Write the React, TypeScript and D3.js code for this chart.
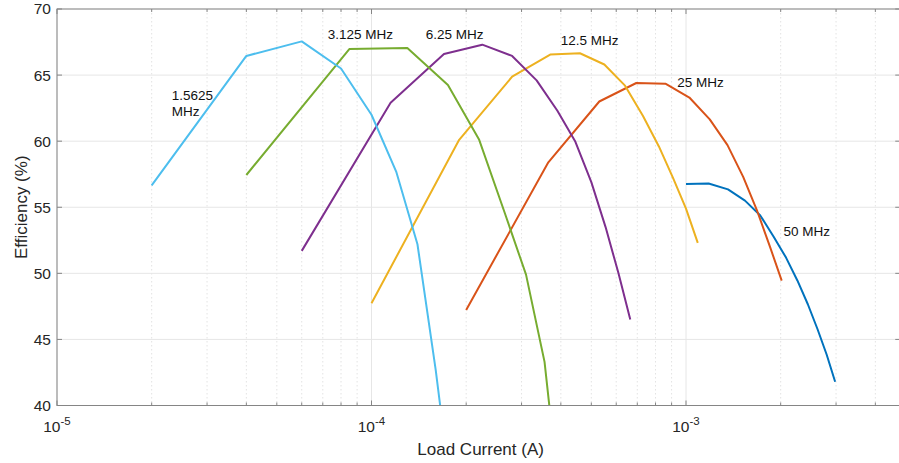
import React from 'react';
import * as d3 from 'd3';

// load current (A) and efficiency (%) for each switching frequency
const i1 = [2e-5, 4e-5, 6e-5, 8e-5, 1.0e-4, 1.2e-4, 1.4e-4, 1.6e-4, 1.8e-4];
const eff1 = [56.65, 66.45, 67.55, 65.5, 62.0, 57.65, 52.2, 42.7, 33];

const i2 = [4.0e-5, 8.5e-5, 1.3e-4, 1.75e-4, 2.2e-4, 2.65e-4, 3.1e-4, 3.55e-4, 4.0e-4];
const eff2 = [57.44, 66.97, 67.05, 64.25, 60.1, 54.6, 49.9, 43.3, 32];

const i3 = [6e-5, 1.15e-4, 1.7e-4, 2.25e-4, 2.8e-4, 3.35e-4, 3.9e-4, 4.45e-4, 5.0e-4, 5.55e-4, 6.1e-4, 6.65e-4];
const eff3 = [51.7, 62.9, 66.6, 67.3, 66.45, 64.6, 62.3, 59.95, 56.9, 53.5, 50.0, 46.5];

const i4 = [1.0e-4, 1.9e-4, 2.8e-4, 3.7e-4, 4.6e-4, 5.5e-4, 6.4e-4, 7.3e-4, 8.2e-4, 9.1e-4, 1.0e-3, 1.09e-3];
const eff4 = [47.74, 60.1, 64.88, 66.55, 66.65, 65.8, 64.2, 61.9, 59.6, 57.2, 54.9, 52.3];

const i5 = [2.0e-4, 3.65e-4, 5.3e-4, 6.95e-4, 8.6e-4, 1.025e-3, 1.19e-3, 1.355e-3, 1.52e-3, 1.685e-3, 1.85e-3, 2.015e-3];
const eff5 = [47.23, 58.4, 63.0, 64.4, 64.35, 63.3, 61.65, 59.7, 57.3, 54.7, 52.0, 49.45];

const i6 = [1.0e-3, 1.18e-3, 1.36e-3, 1.54e-3, 1.72e-3, 1.9e-3, 2.08e-3, 2.26e-3, 2.44e-3, 2.62e-3, 2.8e-3, 2.98e-3];
const eff6 = [56.75, 56.8, 56.35, 55.5, 54.4, 52.77, 51.19, 49.46, 47.66, 45.77, 43.86, 41.8];

const freqLabels = ['50 MHz', '25 MHz', '12.5 MHz', '6.25 MHz', '3.125 MHz', '1.5625 MHz'];
const colors = ['#0072BD', '#D95319', '#EDB120', '#7E2F8E', '#77AC30', '#4DBEEE'];
// label anchor points (data coords)
const labelX = [2.04e-3, 9.38e-4, 4.0e-4, 1.487e-4, 7.26e-5, 2.316e-5];
const labelY = [52.83, 64.12, 67.28, 67.7, 67.71, 63.12];

const yTicks = [40, 45, 50, 55, 60, 65, 70];
const xMajor = [1e-5, 1e-4, 1e-3];

const W = 899, H = 463;
const left = 57, top = 9, bottom = 405.5;
const decade = 314.5;
const xMax = 4.8e-3;
const right = left + decade * Math.log10(xMax / 1e-5);

export default function App() {
  const x = d3.scaleLog().domain([1e-5, xMax]).range([left, right]);
  const y = d3.scaleLinear().domain([40, 70]).range([bottom, top]);

  const series = [
    { xs: i6, ys: eff6 },
    { xs: i5, ys: eff5 },
    { xs: i4, ys: eff4 },
    { xs: i3, ys: eff3 },
    { xs: i2, ys: eff2 },
    { xs: i1, ys: eff1 },
  ];

  const line = d3.line<[number, number]>().x(d => x(d[0])).y(d => y(d[1]));

  const minor: number[] = [];
  for (let p = -5; p <= -3; p++) {
    for (let k = 2; k <= 9; k++) {
      const v = k * Math.pow(10, p);
      if (v < xMax) minor.push(v);
    }
  }

  const axisColor = '#858585';
  const textColor = '#262626';
  const font = 'Arial, "Liberation Sans", Helvetica, sans-serif';

  return (
    <div style={{ position: 'absolute', left: 0, top: 0 }}>
      <svg width={W} height={H} style={{ display: 'block', background: '#fff' }} fontFamily={font}>
        <defs>
          <clipPath id="plot">
            <rect x={left} y={top} width={right - left} height={bottom - top} />
          </clipPath>
        </defs>

        {/* grid */}
        {minor.map((v, i) => (
          <line key={'mg' + i} x1={x(v)} x2={x(v)} y1={top} y2={bottom}
            stroke="#e3e3e3" strokeWidth={1} strokeDasharray="1.5,2.5" />
        ))}
        {xMajor.map((v, i) => (
          <line key={'xg' + i} x1={x(v)} x2={x(v)} y1={top} y2={bottom} stroke="#e6e6e6" strokeWidth={1} />
        ))}
        {yTicks.map((v, i) => (
          <line key={'yg' + i} x1={left} x2={right} y1={y(v)} y2={y(v)} stroke="#e6e6e6" strokeWidth={1} />
        ))}

        {/* curves */}
        <g clipPath="url(#plot)">
          {series.map((s, i) => (
            <path key={'s' + i}
              d={line(s.xs.map((v, j) => [v, s.ys[j]] as [number, number])) || ''}
              fill="none" stroke={colors[i]} strokeWidth={2} strokeLinejoin="round" />
          ))}
        </g>

        {/* box */}
        <rect x={left} y={top} width={right - left} height={bottom - top} fill="none" stroke={axisColor} strokeWidth={1} />

        {/* ticks */}
        {xMajor.map((v, i) => (
          <g key={'xt' + i}>
            <line x1={x(v)} x2={x(v)} y1={bottom} y2={bottom - 5} stroke={axisColor} />
            <line x1={x(v)} x2={x(v)} y1={top} y2={top + 5} stroke={axisColor} />
          </g>
        ))}
        {minor.map((v, i) => (
          <g key={'xm' + i}>
            <line x1={x(v)} x2={x(v)} y1={bottom} y2={bottom - 3} stroke={axisColor} />
            <line x1={x(v)} x2={x(v)} y1={top} y2={top + 3} stroke={axisColor} />
          </g>
        ))}
        {yTicks.map((v, i) => (
          <g key={'yt' + i}>
            <line x1={left} x2={left + 5} y1={y(v)} y2={y(v)} stroke={axisColor} />
            <line x1={right} x2={right - 5} y1={y(v)} y2={y(v)} stroke={axisColor} />
          </g>
        ))}

        {/* tick labels */}
        {yTicks.map((v, i) => (
          <text key={'yl' + i} x={left - 6} y={y(v)} dy="0.35em" textAnchor="end"
            fontSize={15.5} fill={textColor}>{v}</text>
        ))}
        {xMajor.map((v, i) => (
          <text key={'xl' + i} x={x(v)} y={431.5} textAnchor="middle" fontSize={15.5} fill={textColor}>
            10<tspan dy={-7} fontSize={11.5}>{Math.round(Math.log10(v))}</tspan>
          </text>
        ))}

        {/* axis titles */}
        <text x={(left + right) / 2 + 2} y={455} textAnchor="middle" fontSize={17} fill={textColor}>
          Load Current (A)
        </text>
        <text transform={`translate(27,${(top + bottom) / 2}) rotate(-90)`} textAnchor="middle"
          fontSize={17} fill={textColor}>Efficiency (%)</text>

        {/* curve labels */}
        {freqLabels.map((lab, i) => {
          if (lab === '1.5625 MHz') {
            return (
              <text key={'fl' + i} x={x(labelX[i])} y={y(labelY[i])} fontSize={13.5} fill="#111">
                <tspan x={x(labelX[i])}>1.5625</tspan>
                <tspan x={x(labelX[i])} dy={16.5}>MHz</tspan>
              </text>
            );
          }
          return (
            <text key={'fl' + i} x={x(labelX[i])} y={y(labelY[i])} fontSize={13.5} fill="#111">{lab}</text>
          );
        })}
      </svg>
    </div>
  );
}
